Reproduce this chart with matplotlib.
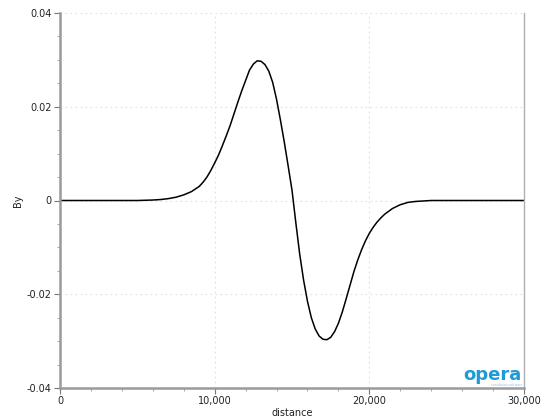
import numpy as np
import matplotlib
matplotlib.use("Agg")
import matplotlib.pyplot as plt
from matplotlib.ticker import MultipleLocator, FuncFormatter

# values
distance = [0, 2000, 4000, 5000, 6000, 6500, 7000, 7500, 8000, 8500, 9000, 9250,
            9500, 9750, 10000, 10250, 10500, 10750, 11000, 11250, 11500, 11750,
            12000, 12250, 12500, 12750, 13000, 13250, 13500, 13750, 14000, 14250,
            14500, 14750, 15000, 15250, 15500, 15750, 16000, 16250, 16500, 16750,
            17000, 17250, 17500, 17750, 18000, 18250, 18500, 18750, 19000, 19250,
            19500, 19750, 20000, 20250, 20500, 20750, 21000, 21500, 22000, 22500,
            23000, 24000, 25000, 30000]
By = [0, 0, 0, 0, 0.0001, 0.0002, 0.0004, 0.0007, 0.0012, 0.0019, 0.0030, 0.0039,
      0.0050, 0.0064, 0.0080, 0.0097, 0.0117, 0.0138, 0.0160, 0.0185, 0.0210, 0.0234,
      0.0256, 0.0278, 0.0291, 0.0298, 0.0297, 0.0290, 0.0276, 0.0252, 0.0216, 0.0172,
      0.0125, 0.0074, 0.0022, -0.0048, -0.0115, -0.0170, -0.0215, -0.0250, -0.0274, -0.0289,
      -0.0296, -0.0297, -0.0292, -0.0280, -0.0262, -0.0238, -0.0210, -0.0181, -0.0152, -0.0127,
      -0.0105, -0.0086, -0.0070, -0.0057, -0.0046, -0.0037, -0.0029, -0.0017, -0.0009, -0.0004,
      -0.0002, 0, 0, 0]

xticks = [0, 10000, 20000, 30000]
yticks = [-0.04, -0.02, 0, 0.02, 0.04]

fig = plt.figure(figsize=(5.46, 4.17), dpi=100)
ax = fig.add_axes([60/546, 29/417, 464/546, 375/417])

ax.plot(distance, By, color='black', lw=1.1)

ax.set_xlim(0, 30000)
ax.set_ylim(-0.04, 0.04)
ax.set_xticks(xticks)
ax.set_yticks(yticks)
ax.xaxis.set_minor_locator(MultipleLocator(2000))
ax.yaxis.set_minor_locator(MultipleLocator(0.005))
ax.xaxis.set_major_formatter(FuncFormatter(lambda v, p: f"{int(v):,}"))
ax.yaxis.set_major_formatter(FuncFormatter(lambda v, p: "0" if abs(v) < 1e-9 else f"{v:.2f}"))

ax.grid(True, which='major', color='#e0e0e0', ls=(0, (1.5, 3)), lw=0.8)
ax.set_axisbelow(True)

for s in ['left', 'bottom']:
    ax.spines[s].set_color('#9a9a9a')
    ax.spines[s].set_linewidth(1.8)
ax.spines['right'].set_color('#b0b0b0')
ax.spines['right'].set_linewidth(1.0)
ax.spines['top'].set_visible(False)

ax.tick_params(which='major', length=4, width=0.8, color='#777777', labelsize=7, labelcolor='#222222', pad=2)
ax.tick_params(which='minor', length=2, width=0.6, color='#999999')
ax.tick_params(axis='y', right=False)

ax.set_xlabel("distance", fontsize=7, color='#222222', labelpad=1)
ax.set_ylabel("By", fontsize=7, color='#222222')
ax.yaxis.set_label_coords(-37/464, 0.5)

# logo
fig.text(522/546, 1 - 375/417, "opera", color='#1e9ad6', fontsize=13, fontweight='bold',
         ha='right', va='center')
fig.text(522/546, 1 - 385.5/417, "simulation software", color='#8fc4e0', fontsize=2.3,
         ha='right', va='center')

fig.savefig("out.png", dpi=100)
